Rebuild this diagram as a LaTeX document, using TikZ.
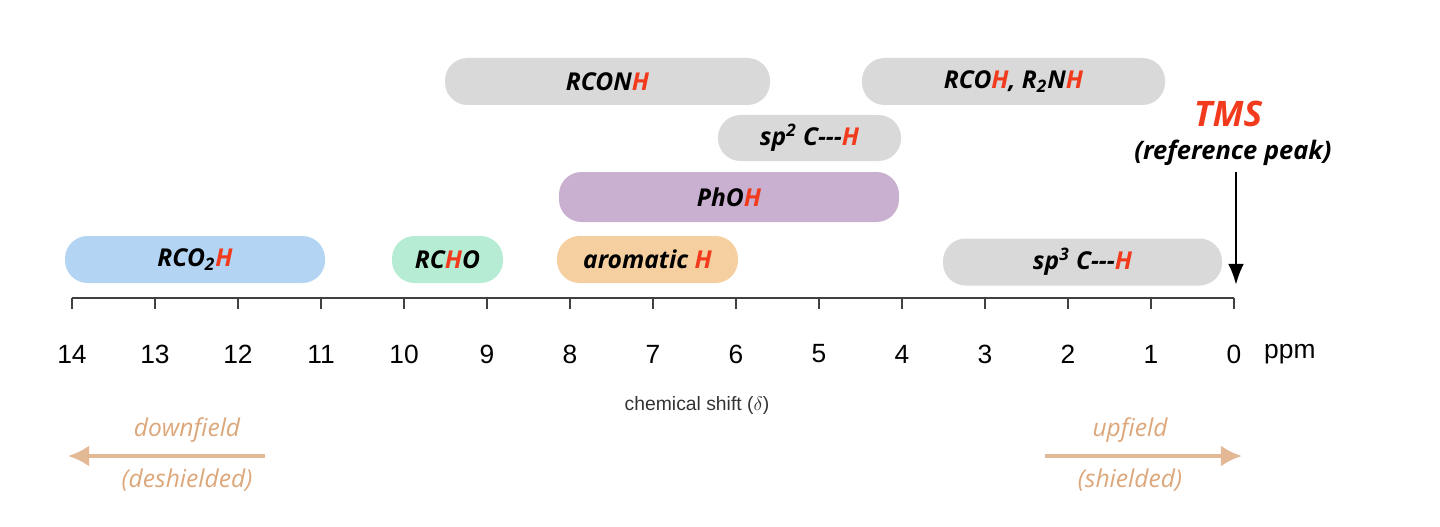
\documentclass[tikz,border=0pt]{standalone}
\usepackage{fontspec}
\usetikzlibrary{arrows.meta}
\setmainfont{Liberation Sans}
\newfontfamily\barfont{Open Sans}
\begin{document}
\begin{tikzpicture}[x=0.02cm,y=-0.02cm]
\definecolor{hred}{HTML}{F23A1D}
\definecolor{tan}{HTML}{DCA77A}
\tikzset{
 bar/.style={rounded corners=22.5*0.02cm, inner sep=0pt, font=\barfont\bfseries\itshape\fontsize{14}{16}\selectfont},
 ticklab/.style={font=\fontsize{15}{17}\selectfont},
 side/.style={text=tan,font=\barfont\itshape\fontsize{14}{16}\selectfont},
 sidearrow/.style={draw=tan!80, line width=2.2pt, -{Latex[length=12pt,width=12pt]}}
}
\useasboundingbox (0,0) rectangle (1440,527);
\newcommand{\hh}{\textcolor{hred}{H}}
% bars
\node[bar,fill={rgb,255:red,179;green,212;blue,243},minimum width=260*0.02cm,minimum height=47*0.02cm] (b1) at (195,259.5) {RCO\textsubscript{2}\hh};
\node[bar,fill={rgb,255:red,181;green,236;blue,211},minimum width=111*0.02cm,minimum height=47*0.02cm] (b2) at (447.5,259.5) {RC\hh O};
\node[bar,fill={rgb,255:red,245;green,207;blue,159},minimum width=181*0.02cm,minimum height=47*0.02cm] (b3) at (647.5,259.5) {aromatic \hh};
\node[bar,fill={rgb,255:red,217;green,217;blue,217},minimum width=279*0.02cm,minimum height=47*0.02cm] (b4) at (1082.5,262) {sp\textsuperscript{3} C---\hh};
\node[bar,fill={rgb,255:red,201;green,175;blue,208},minimum width=340*0.02cm,minimum height=50*0.02cm] (b5) at (729,197) {PhO\hh};
\node[bar,fill={rgb,255:red,217;green,217;blue,217},minimum width=183*0.02cm,minimum height=46*0.02cm] (b6) at (809.5,138) {sp\textsuperscript{2} C---\hh};
\node[bar,fill={rgb,255:red,217;green,217;blue,217},minimum width=325*0.02cm,minimum height=47*0.02cm] (b7) at (607.5,81.5) {RCON\hh};
\node[bar,fill={rgb,255:red,217;green,217;blue,217},minimum width=303*0.02cm,minimum height=47*0.02cm] (b8) at (1013.5,81.5) {RCO\hh, R\textsubscript{2}N\hh};
% axis
\coordinate (a14) at (72,298);
\coordinate (a0) at (1234,298);
\draw[line width=1.2pt,black!75] (a14) -- (a0);
\foreach \i in {0,...,14}{
 \draw[line width=1.2pt,black!75] ({1234-83*\i},298) -- ({1234-83*\i},309);
 \node[ticklab] (t\i) at ({1234-83*\i},354) {\i};
}
\node[ticklab,anchor=west] (ppm) at (1258,354) {ppm};
\node[font=\fontsize{11}{13}\selectfont,text=black!80] (cs) at (697,405) {chemical shift ($\delta$)};
% TMS
\node[font=\barfont\bfseries\itshape\fontsize{20}{22}\selectfont,text=hred] (tms) at (1228,114) {TMS};
\node[font=\barfont\bfseries\itshape\fontsize{14.5}{16}\selectfont] (ref) at (1233,153) {(reference peak)};
\coordinate (tip) at (1236,285);
\draw[line width=1.5pt,-{Latex[length=12pt,width=9pt]}] (1236,172) -- (tip);
% sides
\node[side] (df) at (187,430) {downfield};
\node[side] (ds) at (187,480) {(deshielded)};
\coordinate (dfa) at (265,456); \coordinate (dfb) at (68,456);
\draw[sidearrow] (dfa) -- (dfb);
\node[side] (uf) at (1130,430) {upfield};
\node[side] (us) at (1130,480) {(shielded)};
\coordinate (ufa) at (1045,456); \coordinate (ufb) at (1242,456);
\draw[sidearrow] (ufa) -- (ufb);
\end{tikzpicture}
\end{document}
